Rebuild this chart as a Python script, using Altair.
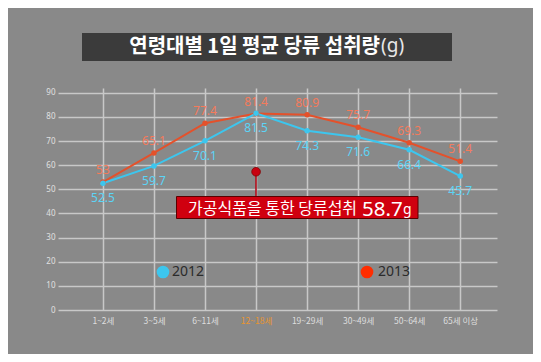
import json
import altair as alt
import pandas as pd

categories = ["1~2세", "3~5세", "6~11세", "12~18세", "19~29세", "30~49세", "50~64세", "65세 이상"]
values_2012 = [52.5, 59.7, 70.1, 81.5, 74.3, 71.6, 66.4, 55.5]
labels_2012 = ["52.5", "59.7", "70.1", "81.5", "74.3", "71.6", "66.4", "45.7"]
values_2013 = [53.0, 65.1, 77.4, 81.4, 80.9, 75.7, 69.3, 61.6]
labels_2013 = ["53", "65.1", "77.4", "81.4", "80.9", "75.7", "69.3", "51.4"]
y_ticks = [0, 10, 20, 30, 40, 50, 60, 70, 80, 90]
annot_idx = 3
annot_value = 57.3
title_main = "연령대별 1일 평균 당류 섭취량"
title_unit = "(g)"
annot_text = "가공식품을 통한 당류섭취"
annot_num = "58.7"
annot_unit = "g"

rows = []
for i, c in enumerate(categories):
    rows.append({"idx": i, "cat": c, "year": "2012", "value": values_2012[i], "label": labels_2012[i]})
    rows.append({"idx": i, "cat": c, "year": "2013", "value": values_2013[i], "label": labels_2013[i]})
df = pd.DataFrame(rows)
d12 = df[df.year == "2012"]
d13 = df[df.year == "2013"]

C12 = "#3cc6ee"
C13 = "#e4512b"
L12 = "#5cd4f6"
L13 = "#f47b5c"
FONT = "Noto Sans CJK KR"

cat_js = json.dumps(categories, ensure_ascii=False)

x_enc = alt.X(
    "idx:Q",
    scale=alt.Scale(domain=[-0.88, 7.72], nice=False, zero=False),
    axis=alt.Axis(
        values=list(range(len(categories))),
        labelExpr=f"{cat_js}[datum.value]",
        title=None, domain=False, ticks=False, grid=True,
        gridColor="#c8c8c8", gridWidth=1.5,
        labelColor={"expr": "datum.value == 3 ? '#e8952e' : '#dedede'"},
        labelFontSize=8.5, labelFont=FONT, labelPadding=6,
    ),
)
y_enc = alt.Y(
    "value:Q",
    scale=alt.Scale(domain=[0, 92], nice=False),
    axis=alt.Axis(
        values=y_ticks, title=None, domain=False, ticks=False, grid=True,
        gridColor="#c8c8c8", gridWidth=1.5, labelOverlap=False,
        labelColor="#e0e0e0", labelFontSize=8, labelFont="Noto Sans", labelPadding=3,
    ),
)

line13 = alt.Chart(d13).mark_line(color=C13, strokeWidth=2).encode(x=x_enc, y=y_enc)
pts13 = alt.Chart(d13).mark_circle(color=C13, size=30, opacity=1).encode(x=x_enc, y=y_enc)
line12 = alt.Chart(d12).mark_line(color=C12, strokeWidth=2).encode(x=x_enc, y=y_enc)
pts12 = alt.Chart(d12).mark_circle(color=C12, size=30, opacity=1).encode(x=x_enc, y=y_enc)
txt13 = alt.Chart(d13).mark_text(color=L13, fontSize=12, font="Noto Sans", dy=-12).encode(
    x=x_enc, y=y_enc, text="label:N")
txt12 = alt.Chart(d12).mark_text(color=L12, fontSize=12, font="Noto Sans", dy=15).encode(
    x=x_enc, y=y_enc, text="label:N")

one = pd.DataFrame({"a": [0]})

# title box
tbox = alt.Chart(one).mark_rect(color="#3b3b3b").encode(
    x=alt.value(24), x2=alt.value(394), y=alt.value(-55), y2=alt.value(-27))
tmain = alt.Chart(one).mark_text(color="white", fontSize=20, fontWeight="bold", font=FONT,
                                 align="right", baseline="middle").encode(
    x=alt.value(322), y=alt.value(-41), text=alt.value(title_main))
tunit = alt.Chart(one).mark_text(color="#e8e8e8", fontSize=19, font="Noto Sans",
                                 align="left", baseline="middle").encode(
    x=alt.value(323), y=alt.value(-42), text=alt.value(title_unit))

# annotation
adf = pd.DataFrame({"idx": [annot_idx], "value": [annot_value]})
arule = alt.Chart(one).mark_rule(color="#b00010", strokeWidth=1.5).encode(
    x=alt.value(198), y=alt.value(84), y2=alt.value(109))
adot = alt.Chart(adf).mark_circle(color="#c80010", size=75, opacity=1,
                                  stroke="#800000", strokeWidth=0.8).encode(x=x_enc, y=y_enc)
abox = alt.Chart(one).mark_rect(color="#d0000f", stroke="#5a0000", strokeWidth=1).encode(
    x=alt.value(118.5), x2=alt.value(360), y=alt.value(108.5), y2=alt.value(130.5))
atext = alt.Chart(one).mark_text(color="white", fontSize=16, font=FONT,
                                 align="left", baseline="alphabetic").encode(
    x=alt.value(130), y=alt.value(126), text=alt.value(annot_text))
anum = alt.Chart(one).mark_text(color="white", fontSize=20.5, font="Noto Sans",
                                align="left", baseline="alphabetic").encode(
    x=alt.value(304), y=alt.value(127.5), text=alt.value(annot_num))
aunit = alt.Chart(one).mark_text(color="white", fontSize=14, font="Noto Sans",
                                 align="left", baseline="alphabetic").encode(
    x=alt.value(345), y=alt.value(126), text=alt.value(annot_unit))

# legend
lg = pd.DataFrame({"year": ["2012", "2013"], "px": [105, 309], "tx": [114, 320], "col": [C12, "#ff2d00"]})
ldot = alt.Chart(lg).mark_circle(size=160, opacity=1).encode(
    x=alt.X("px:Q", scale=None), y=alt.value(184), color=alt.Color("col:N", scale=None))
ltxt = alt.Chart(lg).mark_text(color="#2b2b2b", fontSize=14, font="Noto Sans",
                               align="left", baseline="middle").encode(
    x=alt.X("tx:Q", scale=None), y=alt.value(184), text="year:N")

chart = alt.layer(
    line13, line12, pts13, pts12, txt13, txt12,
    tbox, tmain, tunit,
    arule, adot, abox, atext, anum, aunit,
    ldot, ltxt,
).properties(
    width=439, height=222,
    padding={"left": 50, "top": 80, "right": 36, "bottom": 44},
    autosize=alt.AutoSizeParams(type="none"),
    background="#898989",
).configure_view(stroke=None)

chart.save("out.html", embed_options={"renderer": "svg", "actions": False})
